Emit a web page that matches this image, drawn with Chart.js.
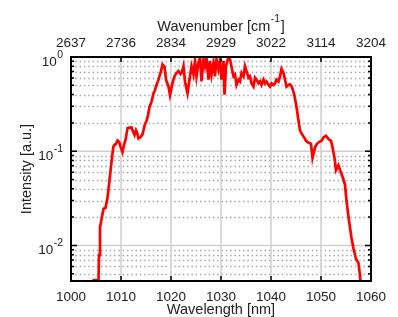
<!DOCTYPE html>
<html>
<head>
<meta charset="utf-8">
<script src="https://cdn.jsdelivr.net/npm/chart.js@4.4.1/dist/chart.umd.min.js"></script>
<style>
  html, body { margin: 0; padding: 0; background: #fff; }
  #spectrum { display: block; }
</style>
</head>
<body>
<canvas id="spectrum" width="398" height="317"></canvas>
<script>
// bottom axis (nm) and the matching wavenumbers printed on the top axis
const wavelengthTicks = [1000, 1010, 1020, 1030, 1040, 1050, 1060];
const wavenumberLabels = ['2637', '2736', '2834', '2929', '3022', '3114', '3204'];

// log axis: labelled decades and the dotted minor lines
const decadeTicks = [1, 0.1, 0.01];
const decadeLabels = [['10', '0'], ['10', '-1'], ['10', '-2']];
const minorTicks = [0.9, 0.8, 0.7, 0.6, 0.5, 0.4, 0.3, 0.2,
                    0.09, 0.08, 0.07, 0.06, 0.05, 0.04, 0.03, 0.02,
                    0.009, 0.008, 0.007, 0.006, 0.005];

// measured spectrum
const wavelength = [
  1004.3, 1005.1, 1005.5, 1005.6, 1005.8, 1006.1, 1006.5, 1006.9, 1007.3, 1007.7,
  1008.0, 1008.3, 1008.5, 1008.7, 1009.0, 1009.3, 1009.6, 1009.9, 1010.3, 1010.6,
  1010.9, 1011.1, 1011.3, 1011.7, 1012.1, 1012.4, 1012.7, 1013.0, 1013.2, 1013.5,
  1013.9, 1014.3, 1014.8, 1015.1, 1015.4, 1015.7, 1016.1, 1016.5, 1016.8, 1017.1,
  1017.5, 1018.0, 1018.3, 1018.7, 1019.0, 1019.5, 1019.8, 1020.3, 1020.7, 1021.1,
  1021.5, 1021.9, 1022.2, 1022.5, 1022.8, 1023.3, 1023.8, 1024.1, 1024.5, 1024.8,
  1025.1, 1025.5, 1025.8, 1026.1, 1026.5, 1026.8, 1027.1, 1027.5, 1027.8, 1028.1,
  1028.5, 1028.8, 1029.1, 1029.5, 1029.8, 1030.1, 1030.5, 1030.7, 1031.0, 1031.4,
  1031.8, 1032.2, 1032.5, 1032.8, 1033.1, 1033.5, 1033.8, 1034.1, 1034.5, 1034.8,
  1035.1, 1035.5, 1035.8, 1036.1, 1036.5, 1036.8, 1037.1, 1037.5, 1037.8, 1038.1,
  1038.5, 1038.8, 1039.1, 1039.5, 1039.8, 1040.1, 1040.5, 1040.8, 1041.1, 1041.5,
  1041.8, 1042.1, 1042.5, 1042.8, 1043.1, 1043.5, 1043.8, 1044.1, 1044.5, 1044.8,
  1045.1, 1045.5, 1045.8, 1046.2, 1046.6, 1047.0, 1047.5, 1048.0, 1048.3, 1048.8,
  1049.2, 1049.7, 1050.1, 1050.5, 1051.0, 1051.5, 1052.0, 1052.3, 1052.7, 1053.0,
  1053.5, 1054.0, 1054.4, 1054.8, 1055.1, 1055.5, 1056.1, 1056.5, 1057.0, 1057.5,
  1057.8, 1058.0
];
const intensity = [
  0.0043, 0.0043, 0.0043, 0.0079, 0.0155, 0.019, 0.0245, 0.025, 0.032, 0.049,
  0.069, 0.095, 0.113, 0.117, 0.12, 0.13, 0.126, 0.112, 0.098, 0.117,
  0.132, 0.151, 0.176, 0.178, 0.179, 0.162, 0.149, 0.167, 0.158, 0.137,
  0.141, 0.151, 0.195, 0.209, 0.24, 0.295, 0.334, 0.411, 0.447, 0.506,
  0.575, 0.708, 0.834, 0.787, 0.575, 0.486, 0.394, 0.528, 0.624, 0.676,
  0.708, 0.661, 0.692, 0.8, 0.55, 0.411, 0.624, 0.8, 0.65, 0.908,
  0.624, 0.871, 0.986, 0.55, 0.944, 0.8, 0.977, 0.575, 0.908, 0.65,
  0.871, 0.624, 0.944, 0.741, 0.912, 0.575, 0.912, 0.398, 0.8, 0.955,
  0.944, 0.741, 0.624, 0.65, 0.506, 0.575, 0.55, 0.676, 0.624, 0.8,
  0.708, 0.603, 0.624, 0.525, 0.486, 0.603, 0.575, 0.525, 0.55, 0.506,
  0.575, 0.525, 0.55, 0.506, 0.486, 0.525, 0.506, 0.525, 0.575, 0.55,
  0.624, 0.748, 0.676, 0.575, 0.486, 0.506, 0.513, 0.49, 0.427, 0.363,
  0.295, 0.211, 0.166, 0.151, 0.141, 0.129, 0.123, 0.12, 0.085, 0.11,
  0.12, 0.126, 0.129, 0.14, 0.146, 0.135, 0.129, 0.11, 0.085, 0.063,
  0.071, 0.059, 0.052, 0.044, 0.030, 0.020, 0.012, 0.0093, 0.0072, 0.0065,
  0.0048, 0.0035
];

const textColor = '#222';
const fontFamily = '"Liberation Sans", Arial, Helvetica, sans-serif';

// grid, inward ticks, box and the 10^n labels, drawn like the matlab figure
const framePlugin = {
  id: 'frame',
  beforeDatasetsDraw(chart) {
    const { ctx, chartArea: a, scales: { x, y } } = chart;
    ctx.save();

    // dotted minor lines
    ctx.strokeStyle = '#a6a6a6';
    ctx.lineWidth = 1.3;
    ctx.setLineDash([1.5, 2.8]);
    ctx.beginPath();
    minorTicks.forEach(v => {
      const py = Math.round(y.getPixelForValue(v)) + 0.5;
      ctx.moveTo(a.left, py);
      ctx.lineTo(a.right, py);
    });
    ctx.stroke();

    // solid light lines at decades and wavelength ticks
    ctx.setLineDash([]);
    ctx.strokeStyle = '#cfcfcf';
    ctx.lineWidth = 1.5;
    ctx.beginPath();
    decadeTicks.forEach(v => {
      const py = y.getPixelForValue(v);
      ctx.moveTo(a.left, py);
      ctx.lineTo(a.right, py);
    });
    wavelengthTicks.forEach(v => {
      const px = x.getPixelForValue(v);
      ctx.moveTo(px, a.top);
      ctx.lineTo(px, a.bottom);
    });
    ctx.stroke();
    ctx.restore();
  },
  afterDatasetsDraw(chart) {
    const { ctx, chartArea: a, scales: { x, y } } = chart;
    ctx.save();
    ctx.strokeStyle = '#000';

    // inward tick marks
    ctx.lineWidth = 1.5;
    ctx.beginPath();
    wavelengthTicks.forEach(v => {
      const px = x.getPixelForValue(v);
      ctx.moveTo(px, a.bottom);
      ctx.lineTo(px, a.bottom - 5);
      ctx.moveTo(px, a.top);
      ctx.lineTo(px, a.top + 5);
    });
    decadeTicks.forEach(v => {
      const py = y.getPixelForValue(v);
      ctx.moveTo(a.left, py);
      ctx.lineTo(a.left + 6, py);
      ctx.moveTo(a.right, py);
      ctx.lineTo(a.right - 6, py);
    });
    minorTicks.forEach(v => {
      const py = y.getPixelForValue(v);
      ctx.moveTo(a.left, py);
      ctx.lineTo(a.left + 3, py);
      ctx.moveTo(a.right, py);
      ctx.lineTo(a.right - 3, py);
    });
    ctx.stroke();

    // box
    ctx.lineWidth = 2;
    ctx.strokeRect(a.left, a.top, a.right - a.left, a.bottom - a.top);

    // y labels with raised exponent
    ctx.fillStyle = textColor;
    ctx.textAlign = 'right';
    ctx.textBaseline = 'alphabetic';
    decadeTicks.forEach((v, i) => {
      const py = y.getPixelForValue(v);
      const [base, exp] = decadeLabels[i];
      const right = a.left - 8;
      ctx.font = '10.5px ' + fontFamily;
      const expWidth = ctx.measureText(exp).width;
      ctx.fillText(exp, right, py + 1);
      ctx.font = '13.5px ' + fontFamily;
      ctx.fillText(base, right - expWidth - 0.5, py + 8.5);
    });

    // top title with a proper raised cm^-1
    const top = chart.scales.x2;
    const cx = (a.left + a.right) / 2;
    const main = 'Wavenumber [cm';
    const sup = '-1';
    const end = ']';
    ctx.textAlign = 'left';
    ctx.font = '14.5px ' + fontFamily;
    const wMain = ctx.measureText(main).width;
    const wEnd = ctx.measureText(end).width;
    ctx.font = '10.5px ' + fontFamily;
    const wSup = ctx.measureText(sup).width;
    let tx = cx - (wMain + wSup + wEnd + 1) / 2;
    const baseY = top.top + 31;
    ctx.font = '14.5px ' + fontFamily;
    ctx.fillText(main, tx, baseY);
    tx += wMain + 0.5;
    ctx.font = '10.5px ' + fontFamily;
    ctx.fillText(sup, tx, baseY - 9);
    tx += wSup + 0.5;
    ctx.font = '14.5px ' + fontFamily;
    ctx.fillText(end, tx, baseY);
    ctx.restore();
  }
};

const ctx = document.getElementById('spectrum').getContext('2d');
const spectrumChart = new Chart(ctx, {
  type: 'line',
  data: {
    datasets: [{
      label: 'Intensity',
      data: wavelength.map((w, i) => ({ x: w, y: intensity[i] })),
      borderColor: '#ff0000',
      borderWidth: 2.7,
      pointRadius: 0,
      tension: 0,
      fill: false,
      clip: 0
    }]
  },
  options: {
    responsive: false,
    animation: false,
    devicePixelRatio: 1,
    layout: { padding: { left: 0, right: 27, top: 0, bottom: 0 } },
    plugins: {
      legend: { display: false },
      tooltip: { enabled: false }
    },
    scales: {
      x: {
        type: 'linear',
        position: 'bottom',
        min: 1000,
        max: 1060,
        afterBuildTicks: scale => { scale.ticks = wavelengthTicks.map(v => ({ value: v })); },
        afterFit: scale => { scale.height = 36; },
        grid: { display: false, drawTicks: false },
        border: { display: false },
        ticks: {
          color: textColor,
          font: { size: 13.5, family: fontFamily },
          padding: 8,
          maxRotation: 0,
          callback: value => String(value)
        },
        title: {
          display: true,
          text: 'Wavelength [nm]',
          color: textColor,
          font: { size: 14.5, family: fontFamily },
          padding: { top: 0, bottom: -1.5 }
        }
      },
      x2: {
        type: 'linear',
        position: 'top',
        min: 1000,
        max: 1060,
        afterBuildTicks: scale => { scale.ticks = wavelengthTicks.map(v => ({ value: v })); },
        afterFit: scale => { scale.height = 57; },
        grid: { display: false, drawTicks: false },
        border: { display: false },
        ticks: {
          color: textColor,
          font: { size: 13.5, family: fontFamily },
          padding: 6,
          maxRotation: 0,
          callback: (value, index) => wavenumberLabels[index]
        }
      },
      y: {
        type: 'logarithmic',
        position: 'left',
        min: 0.0042,
        max: 1,
        afterFit: scale => { scale.width = 71; },
        grid: { display: false, drawTicks: false },
        border: { display: false },
        ticks: { display: false },
        title: {
          display: true,
          text: 'Intensity [a.u.]',
          color: textColor,
          font: { size: 14.5, family: fontFamily },
          padding: { top: 18, bottom: 0 }
        }
      }
    }
  },
  plugins: [framePlugin]
});
</script>
</body>
</html>
